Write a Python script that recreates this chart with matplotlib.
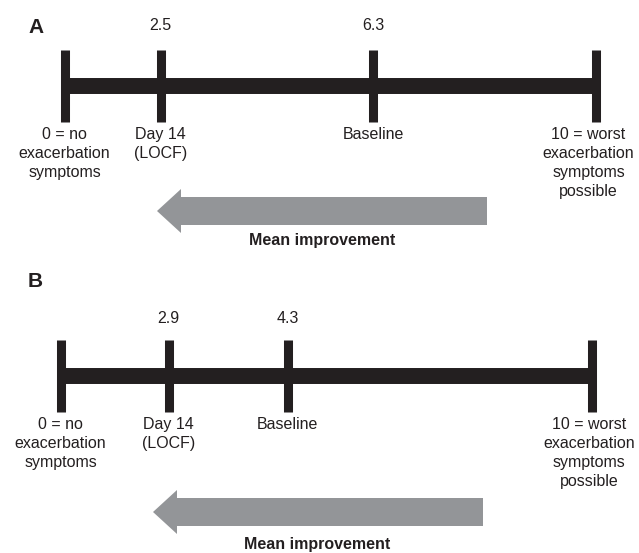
import matplotlib.pyplot as plt
import numpy as np
from matplotlib.patches import FancyArrow

plt.rcParams['font.family'] = ['Liberation Sans', 'DejaVu Sans']

# panel A
a_vals = [0, 2.5, 6.3, 10]
a_tops = ['', '2.5', '6.3', '']
a_labels = ['0 = no\nexacerbation\nsymptoms', 'Day 14\n(LOCF)', 'Baseline',
            '10 = worst\nexacerbation\nsymptoms\npossible']
# panel B
b_vals = [0, 2.9, 4.3, 10]
b_tops = ['', '2.9', '4.3', '']
b_labels = ['0 = no\nexacerbation\nsymptoms', 'Day 14\n(LOCF)', 'Baseline',
            '10 = worst\nexacerbation\nsymptoms\npossible']

dark = '#231f20'
grey = '#939598'

W, H = 639, 553
fig = plt.figure(figsize=(W / 100, H / 100), dpi=100)

# overlay in pixel coords for letters and arrows
over = fig.add_axes([0, 0, 1, 1])
over.set_xlim(0, W)
over.set_ylim(H, 0)
over.axis('off')


def panel(left, top, vals, tops, labels, frac, top_off, last_dx):
    # schematic is not to scale: piecewise mapping of values to position
    ax = fig.add_axes([left / W, 1 - (top + 72) / H, 531 / W, 72 / H])
    fwd = lambda v: np.interp(v, vals, frac)
    inv = lambda p: np.interp(p, frac, vals)
    ax.set_xscale('function', functions=(fwd, inv))
    ax.set_xlim(0, 10)
    ax.set_ylim(0, 1)
    ax.axis('off')
    ax.plot([vals[0], vals[-1]], [0.5, 0.5], color=dark, lw=11.5,
            solid_capstyle='butt', clip_on=False)
    ax.vlines(vals, 0, 1, color=dark, lw=6.5, clip_on=False)
    for i, (v, t, lab) in enumerate(zip(vals, tops, labels)):
        if t:
            ax.annotate(t, (v, 1), xycoords=('data', 'axes fraction'),
                        xytext=(0, top_off), textcoords='offset points',
                        ha='center', va='baseline', fontsize=11.5, color=dark)
        dx = last_dx if i == len(vals) - 1 else 0
        ax.annotate(lab, (v, 0), xycoords=('data', 'axes fraction'),
                    xytext=(dx, -3.6), textcoords='offset points',
                    ha='center', va='top', fontsize=11.5, color=dark,
                    linespacing=1.32)
    return ax


panel(64.5, 50, a_vals, a_tops, a_labels, [0, 0.1808, 0.5819, 1], 14.4, -5)
panel(60.5, 340, b_vals, b_tops, b_labels, [0, 0.2034, 0.4275, 1], 12.2, -1.5)

over.text(28, 33, 'A', fontsize=15, fontweight='bold', color=dark, va='baseline')
over.text(28, 287, 'B', fontsize=15, fontweight='bold', color=dark, va='baseline')

over.add_patch(FancyArrow(487, 211, -330, 0, width=28, head_width=44,
                          head_length=24, length_includes_head=True,
                          color=grey, lw=0))
over.add_patch(FancyArrow(483, 512, -330, 0, width=28, head_width=44,
                          head_length=24, length_includes_head=True,
                          color=grey, lw=0))
over.text(322, 241, 'Mean improvement', ha='center', va='center',
          fontsize=11.5, fontweight='bold', color=dark)
over.text(317, 545, 'Mean improvement', ha='center', va='center',
          fontsize=11.5, fontweight='bold', color=dark)

fig.savefig('out.png', dpi=100)
